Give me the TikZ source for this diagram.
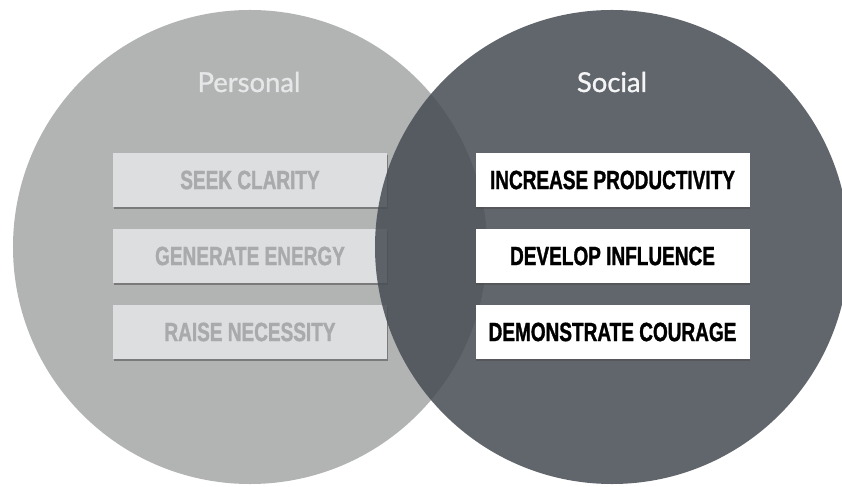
\documentclass[tikz,border=0pt]{standalone}
\usepackage{fontspec}
\setmainfont{Liberation Sans}
\newfontfamily\boxfont[FakeStretch=0.72,FakeBold=1.2]{Liberation Sans}
\newfontfamily\titlefont[FakeBold=1]{Lato}
\usetikzlibrary{shadows}
\definecolor{leftfill}{RGB}{178,179,179}
\definecolor{rightfill}{RGB}{72,77,85}
\definecolor{lboxfill}{RGB}{221,222,224}
\definecolor{ltext}{RGB}{169,170,172}
\definecolor{ptitle}{RGB}{230,231,232}
\definecolor{stitle}{RGB}{245,245,245}
\tikzset{
  boxstyle/.style={minimum width=274bp, minimum height=54bp, inner sep=0pt,
    font=\boxfont\bfseries\fontsize{26.5}{30}\selectfont,
    drop shadow={shadow xshift=0.6pt, shadow yshift=-1.6pt, opacity=0.55, fill=black!70}},
  lbox/.style={boxstyle, fill=lboxfill, text=ltext},
  rbox/.style={boxstyle, fill=white, text=black},
  titlestyle/.style={font=\titlefont\fontsize{27.5}{32}\selectfont, anchor=base, inner sep=0pt}
}
\begin{document}
\begin{tikzpicture}[x=1bp,y=-1bp]
\useasboundingbox (0,0) rectangle (842,487);
\fill[white] (0,0) rectangle (842,487);
\node[circle, fill=leftfill, minimum size=474bp, inner sep=0pt] (lc) at (250,247) {};
\node[lbox] (b1) at (250,180) {SEEK CLARITY};
\node[lbox] (b2) at (250,256) {GENERATE ENERGY};
\node[lbox] (b3) at (250,332) {RAISE NECESSITY};
\node[circle, fill=rightfill, fill opacity=0.86, minimum size=474bp, inner sep=0pt] (rc) at (612,247) {};
\node[rbox] (r1) at (612.5,180) {INCREASE PRODUCTIVITY};
\node[rbox] (r2) at (612.5,256) {DEVELOP INFLUENCE};
\node[rbox] (r3) at (612.5,332) {DEMONSTRATE COURAGE};
\node[titlestyle, text=ptitle] (pt) at (249,92) {Personal};
\node[titlestyle, text=stitle] (st) at (612,92) {Social};
\end{tikzpicture}
\end{document}
